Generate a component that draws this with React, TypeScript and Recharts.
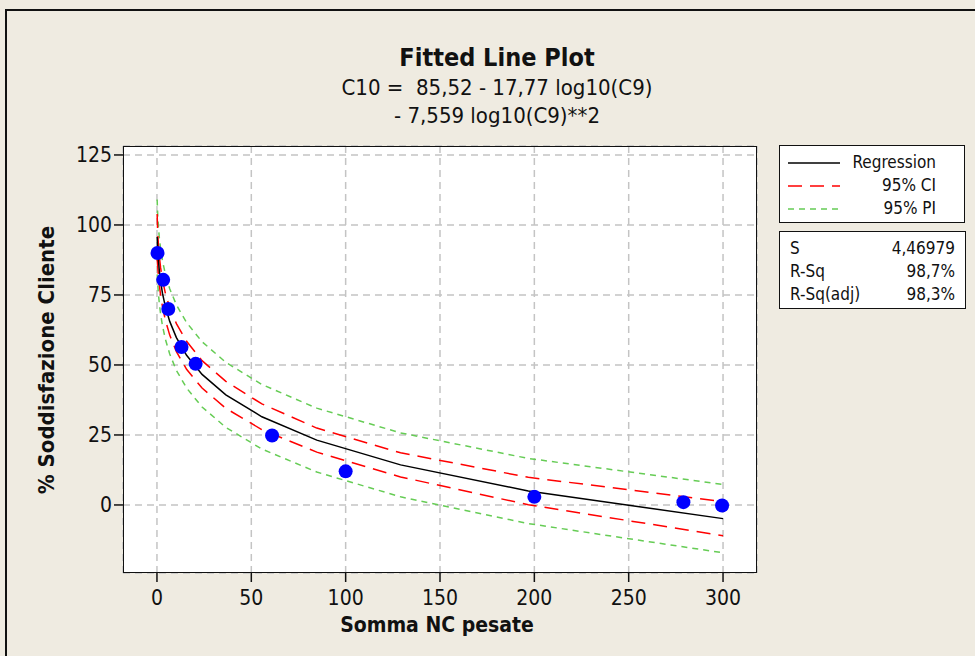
import React from 'react';
import {
  ComposedChart,
  Line,
  Scatter,
  XAxis,
  YAxis,
  CartesianGrid,
} from 'recharts';

// fitted curve, read at log-spaced x positions
const fitX = [0.1, 0.15, 0.23, 0.35, 0.54, 0.82, 1.25, 1.91, 2.91, 4.44, 6.76, 10.3, 15.7, 23.9, 36.5, 55.6, 84.7, 129.1, 196.8, 300];
const fitY = [95.73, 94.99, 93.75, 92.0, 89.74, 86.98, 83.71, 79.93, 75.65, 70.86, 65.56, 59.76, 53.45, 46.64, 39.32, 31.49, 23.16, 14.32, 4.98, -4.88];
const ciLow = [87.53, 87.39, 86.75, 85.6, 83.84, 81.58, 78.61, 75.03, 70.85, 66.06, 60.66, 54.76, 48.45, 41.74, 34.52, 26.89, 18.86, 10.02, 0.08, -10.98];
const ciHigh = [103.93, 102.59, 100.75, 98.4, 95.64, 92.38, 88.81, 84.83, 80.45, 75.66, 70.46, 64.76, 58.45, 51.54, 44.12, 36.09, 27.46, 18.62, 9.88, 1.22];
const piLow = [82.35, 81.97, 81.07, 79.64, 77.64, 75.11, 71.98, 68.28, 64.04, 59.25, 53.91, 48.07, 41.76, 34.99, 27.71, 19.96, 11.75, 2.91, -6.66, -17.08];
const piHigh = [109.11, 108.01, 106.43, 104.36, 101.84, 98.85, 95.44, 91.58, 87.26, 82.47, 77.21, 71.45, 65.14, 58.29, 50.93, 43.02, 34.57, 25.73, 16.62, 7.32];

// observations
const obsX = [0.3, 3.3, 6, 13, 20.5, 61, 100, 200, 279, 299.5];
const obsY = [90, 80.4, 70, 56.4, 50.4, 24.8, 12, 2.9, 1, -0.2];

const xTicks = [0, 50, 100, 150, 200, 250, 300];
const yTicks = [0, 25, 50, 75, 100, 125];

const stats = [
  { label: 'S', value: '4,46979' },
  { label: 'R-Sq', value: '98,7%' },
  { label: 'R-Sq(adj)', value: '98,3%' },
];

const FONT = 'Tahoma, "DejaVu Sans Condensed", "DejaVu Sans", sans-serif';
const BG = '#efebe1';
const GREEN = '#66cc55';

const fitRows = fitX.map((x, i) => ({
  x,
  fit: fitY[i],
  ciLow: ciLow[i],
  ciHigh: ciHigh[i],
  piLow: piLow[i],
  piHigh: piHigh[i],
}));
const obsRows = obsX.map((x, i) => ({ x, y: obsY[i] }));

const Dot = (props: any) => <circle cx={props.cx} cy={props.cy} r={7} fill="#0000ff" />;

const abs = (left: number, top: number, extra: React.CSSProperties = {}): React.CSSProperties => ({
  position: 'absolute',
  left,
  top,
  ...extra,
});

export default function App() {
  const tickStyle = { fill: '#111', fontSize: 21, fontFamily: FONT };
  return (
    <div style={abs(0, 0, { width: 975, height: 656, background: BG, overflow: 'hidden', fontFamily: FONT, color: '#111' })}>
      <div style={abs(5, 9, { width: 1000, height: 700, borderTop: '2px solid #111', borderLeft: '2px solid #111' })} />

      <div style={abs(0, 43, { width: 994, textAlign: 'center', fontSize: 25, fontWeight: 'bold' })}>Fitted Line Plot</div>
      <div style={abs(0, 75, { width: 994, textAlign: 'center', fontSize: 22 })}>C10 =&nbsp; 85,52 - 17,77 log10(C9)</div>
      <div style={abs(0, 103, { width: 994, textAlign: 'center', fontSize: 22 })}>- 7,559 log10(C9)**2</div>

      <ComposedChart
        width={975}
        height={656}
        data={fitRows}
        margin={{ top: 146, right: 218, bottom: 23, left: 43 }}
        style={{ position: 'absolute', left: 0, top: 0 }}
      >
        <CartesianGrid fill="#ffffff" stroke="#c4c4c4" strokeWidth={1.5} strokeDasharray="7 5" />
        <XAxis
          dataKey="x"
          type="number"
          domain={[-18, 318]}
          ticks={xTicks}
          axisLine={false}
          tickLine={{ stroke: '#111', strokeWidth: 1.5 }}
          tickSize={9}
          tick={{ ...tickStyle, dy: 6 }}
          height={60}
          allowDataOverflow
        />
        <YAxis
          type="number"
          domain={[-24.3, 128.2]}
          ticks={yTicks}
          axisLine={false}
          tickLine={{ stroke: '#111', strokeWidth: 1.5 }}
          tickSize={9}
          tick={tickStyle}
          width={80}
          allowDataOverflow
        />
        <Line dataKey="piHigh" stroke={GREEN} strokeWidth={1.5} strokeDasharray="6 5" dot={false} isAnimationActive={false} />
        <Line dataKey="piLow" stroke={GREEN} strokeWidth={1.5} strokeDasharray="6 5" dot={false} isAnimationActive={false} />
        <Line dataKey="ciHigh" stroke="#ff0000" strokeWidth={1.5} strokeDasharray="14 8" dot={false} isAnimationActive={false} />
        <Line dataKey="ciLow" stroke="#ff0000" strokeWidth={1.5} strokeDasharray="14 8" dot={false} isAnimationActive={false} />
        <Line dataKey="fit" stroke="#000" strokeWidth={1.5} dot={false} isAnimationActive={false} />
        <Scatter data={obsRows} dataKey="y" shape={<Dot />} isAnimationActive={false} />
      </ComposedChart>

      <div style={abs(123, 146, { width: 634, height: 427, border: '1.5px solid #111', boxSizing: 'border-box', pointerEvents: 'none' })} />

      <div style={abs(0, 613, { width: 874, textAlign: 'center', fontSize: 21, fontWeight: 'bold' })}>Somma NC pesate</div>
      <div
        style={abs(46, 360, {
          width: 400,
          marginLeft: -200,
          textAlign: 'center',
          fontSize: 22,
          fontWeight: 'bold',
          transform: 'translateY(-50%) rotate(-90deg)',
          transformOrigin: 'center',
          whiteSpace: 'nowrap',
        })}
      >
        % Soddisfazione Cliente
      </div>

      <div style={abs(779, 145, { width: 186, height: 78, border: '1.5px solid #111', boxSizing: 'border-box', background: '#fff', fontSize: 17 })}>
        {[
          { name: 'Regression', color: '#000', dash: undefined },
          { name: '95% CI', color: '#ff0000', dash: '14 8' },
          { name: '95% PI', color: GREEN, dash: '6 5' },
        ].map((r, i) => (
          <div key={r.name} style={abs(0, 6 + i * 23, { width: 184, height: 22 })}>
            <svg width={60} height={22} style={{ position: 'absolute', left: 6, top: 0 }}>
              <line x1={2} x2={54} y1={11} y2={11} stroke={r.color} strokeWidth={1.5} strokeDasharray={r.dash} />
            </svg>
            <div style={abs(0, 0, { width: 156, textAlign: 'right' })}>{r.name}</div>
          </div>
        ))}
      </div>

      <div style={abs(779, 231, { width: 187, height: 78, border: '1.5px solid #111', boxSizing: 'border-box', background: '#fff', fontSize: 17 })}>
        {stats.map((s, i) => (
          <div key={s.label} style={abs(0, 6 + i * 23, { width: 185, height: 22 })}>
            <div style={abs(10, 0)}>{s.label}</div>
            <div style={abs(0, 0, { width: 175, textAlign: 'right' })}>{s.value}</div>
          </div>
        ))}
      </div>
    </div>
  );
}
